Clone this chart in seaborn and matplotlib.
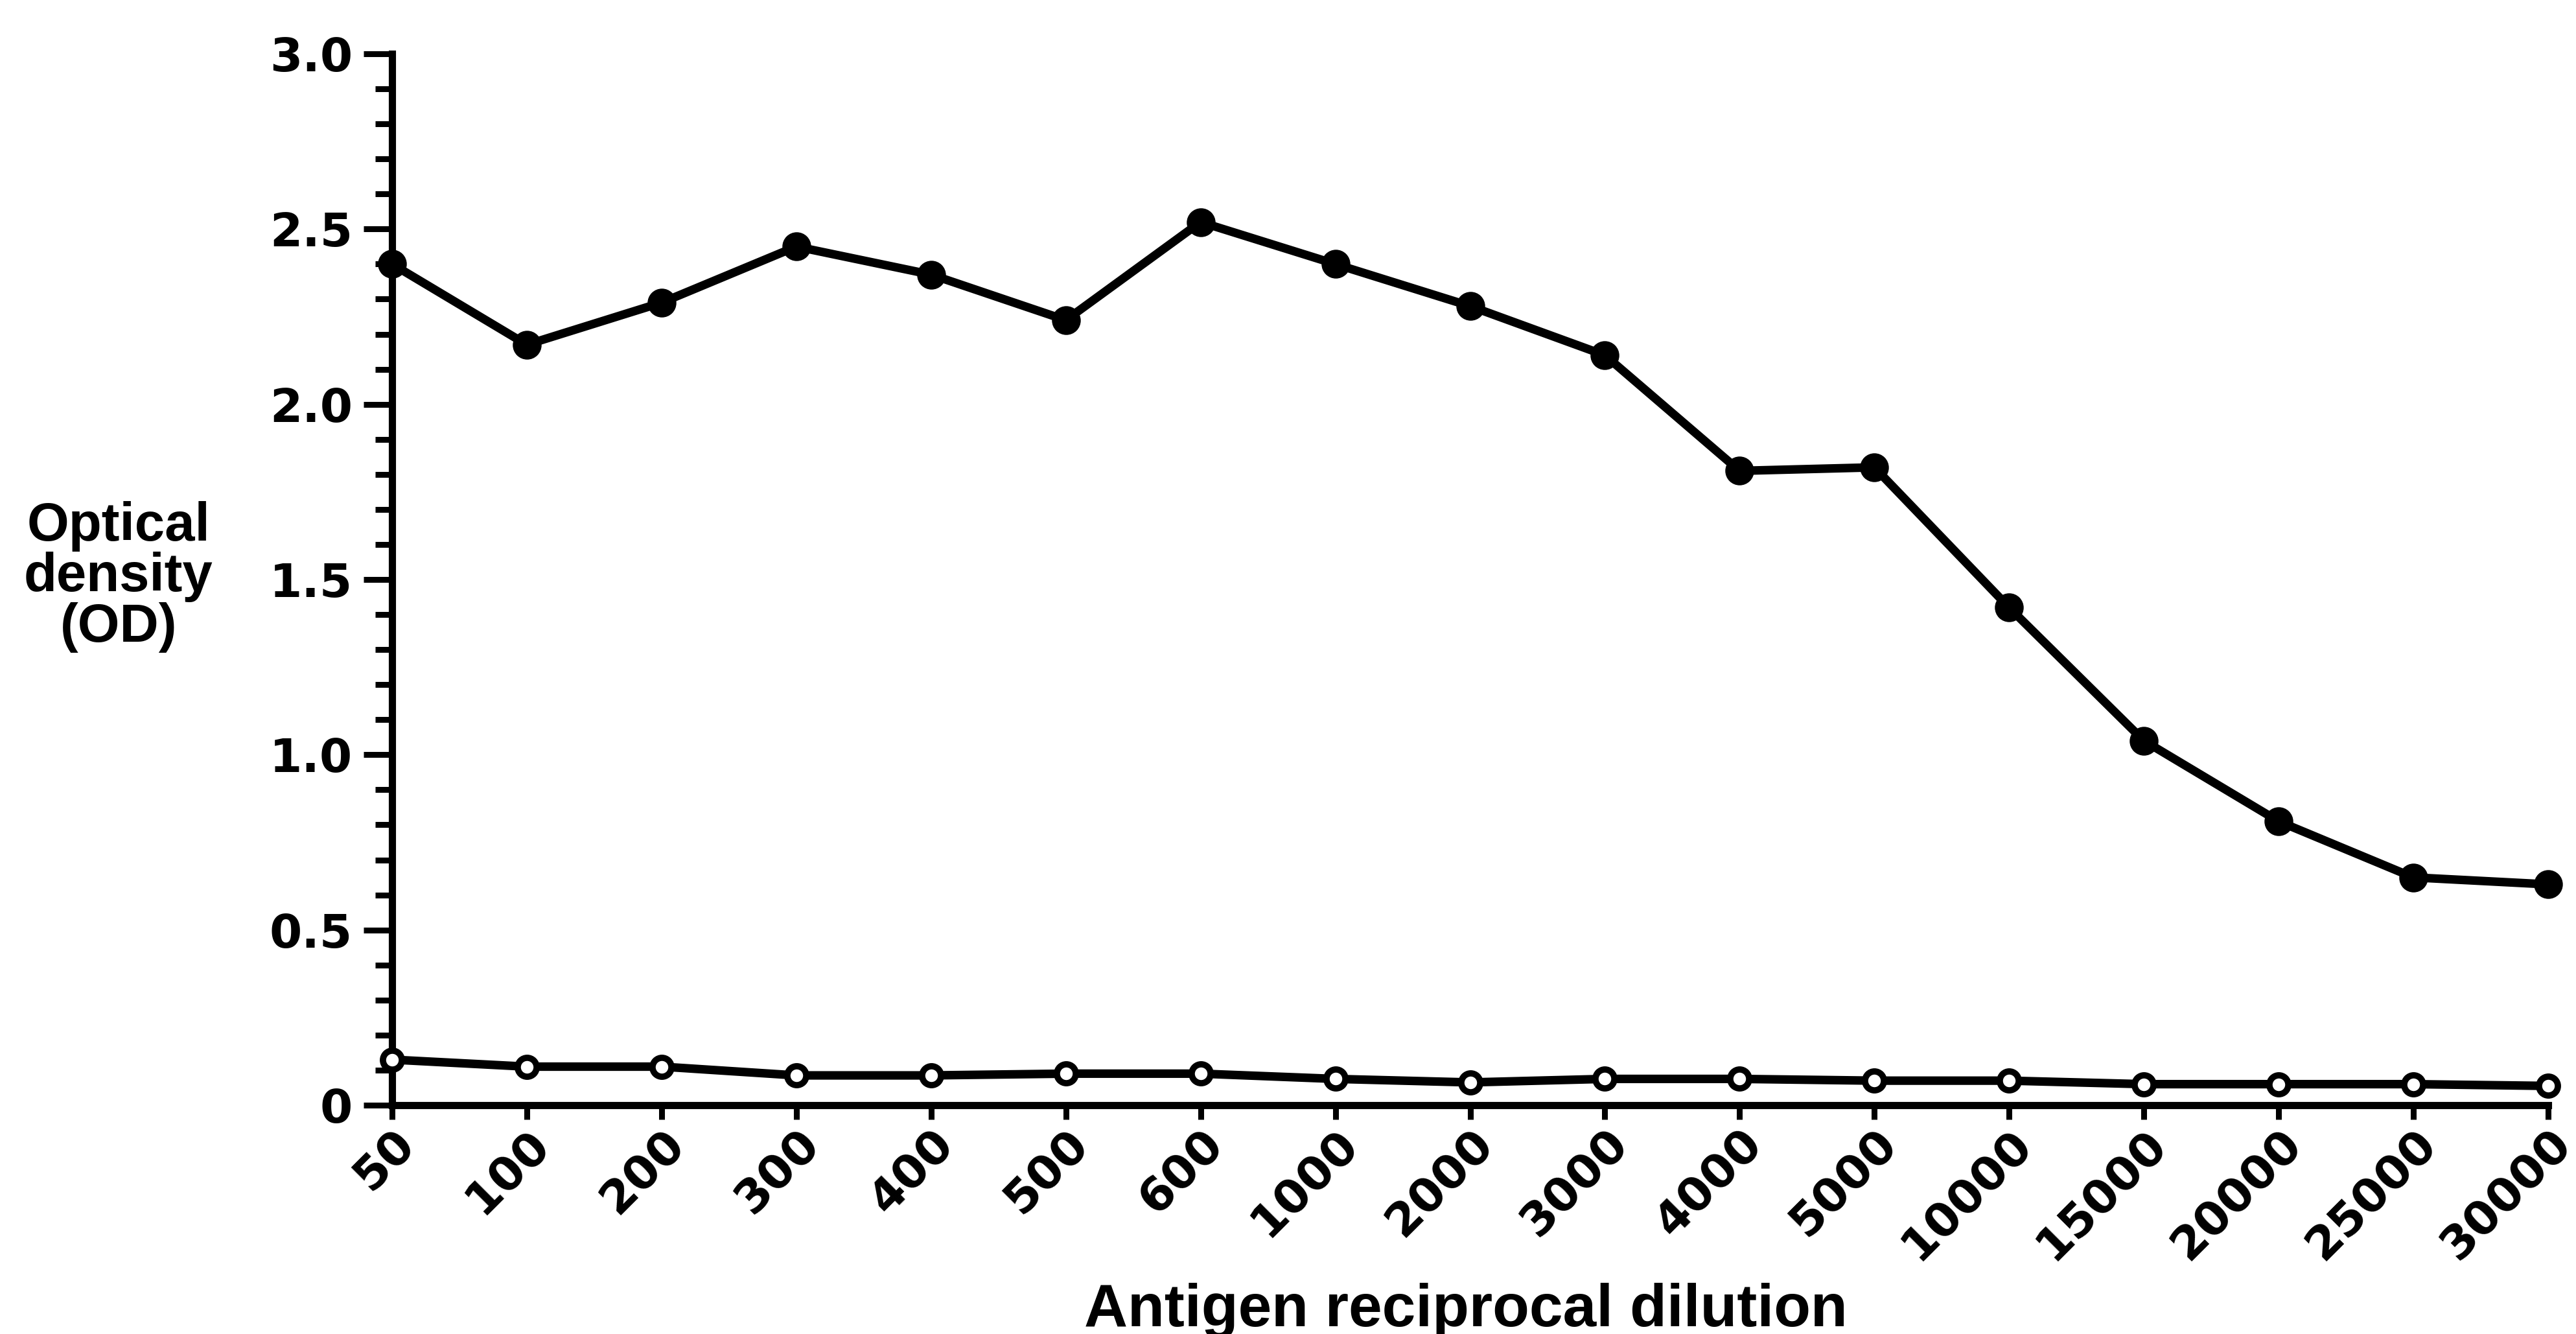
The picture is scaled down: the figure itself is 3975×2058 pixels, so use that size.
import numpy as np
import pandas as pd
import matplotlib
matplotlib.use("Agg")
import matplotlib.pyplot as plt
import seaborn as sns
from matplotlib.transforms import ScaledTranslation
from matplotlib.ticker import MultipleLocator

# ---- data ----
dilutions = ["50", "100", "200", "300", "400", "500", "600", "1000", "2000",
             "3000", "4000", "5000", "10000", "15000", "20000", "25000", "30000"]
od_antigen = [2.40, 2.17, 2.29, 2.45, 2.37, 2.24, 2.52, 2.40, 2.28,
              2.14, 1.81, 1.82, 1.42, 1.04, 0.81, 0.65, 0.63]
od_control = [0.13, 0.11, 0.11, 0.085, 0.085, 0.09, 0.09, 0.075, 0.065,
              0.075, 0.075, 0.07, 0.07, 0.06, 0.06, 0.06, 0.055]
y_ticks = [0, 0.5, 1.0, 1.5, 2.0, 2.5, 3.0]
y_ticklabels = ["0", "0.5", "1.0", "1.5", "2.0", "2.5", "3.0"]
y_label = "Optical\ndensity\n(OD)"
x_label = "Antigen reciprocal dilution"

sns.set_style("ticks")
plt.rcParams["font.family"] = ["DejaVu Sans"]
plt.rcParams["text.color"] = "black"
plt.rcParams["axes.labelcolor"] = "black"
plt.rcParams["xtick.color"] = "black"
plt.rcParams["ytick.color"] = "black"

W, H = 3975, 2058
fig = plt.figure(figsize=(W / 100, H / 100), dpi=100)
left, right, top, bottom = 605, 3932, 83, 1705
ax = fig.add_axes([left / W, 1 - bottom / H, (right - left) / W, (bottom - top) / H])

pos = np.arange(len(dilutions))
df = pd.DataFrame({"pos": pos, "antigen": od_antigen, "control": od_control})

sns.lineplot(data=df, x="pos", y="antigen", ax=ax, color="black", linewidth=9.5,
             marker="o", markersize=28, markerfacecolor="black",
             markeredgecolor="black", markeredgewidth=4, clip_on=False, zorder=5)
sns.lineplot(data=df, x="pos", y="control", ax=ax, color="black", linewidth=9.5,
             marker="o", markersize=21, markerfacecolor="white",
             markeredgecolor="black", markeredgewidth=7, clip_on=False, zorder=5)

ax.set_xlim(0, len(dilutions) - 1)
ax.set_ylim(0, 3.0)
ax.set_xlabel("")
ax.set_ylabel("")

ax.set_yticks(y_ticks)
ax.set_yticklabels(y_ticklabels, fontsize=52, fontweight="heavy")
ax.yaxis.set_minor_locator(MultipleLocator(0.1))

ax.set_xticks(pos)
ax.set_xticklabels(dilutions, rotation=45, ha="right", va="top",
                   rotation_mode="anchor", fontsize=52, fontweight="heavy")
offset = ScaledTranslation(0.30, -0.10, fig.dpi_scale_trans)
for lab in ax.get_xticklabels():
    lab.set_transform(lab.get_transform() + offset)

ax.tick_params(axis="y", which="major", length=32, width=6.5, direction="out",
               pad=12, colors="black")
ax.tick_params(axis="y", which="minor", length=19, width=6.5, direction="out",
               colors="black")
ax.tick_params(axis="x", which="major", length=16, width=6.5, direction="out",
               pad=2, colors="black")

sns.despine(ax=ax)
for s in ("left", "bottom"):
    ax.spines[s].set_linewidth(8)
    ax.spines[s].set_color("black")

fig.text(183 / W, 1 - 890 / H, y_label, ha="center", va="center", color="black",
         fontsize=60, fontweight="bold", family=["Liberation Sans", "DejaVu Sans"],
         linespacing=1.0)
fig.text(2262 / W, 1 - 2046 / H, x_label, ha="center", va="baseline", color="black",
         fontsize=67, fontweight="bold", family=["Liberation Sans", "DejaVu Sans"])

fig.savefig("out.png", dpi=100, facecolor="white")
